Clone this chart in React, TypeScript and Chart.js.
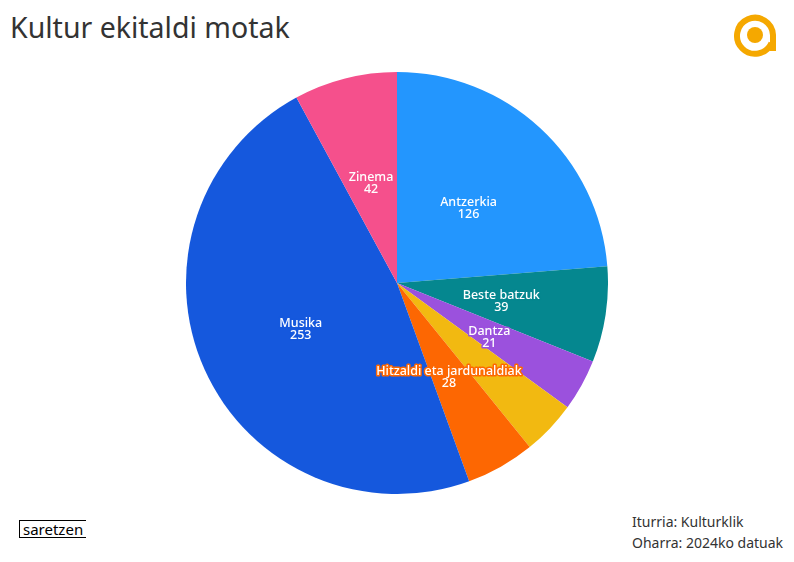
import React, { useEffect, useRef } from "react";
import { Chart, registerables } from "chart.js";

Chart.register(...registerables);

const categories = ["Antzerkia", "Beste batzuk", "Dantza", "Literatura", "Hitzaldi eta jardunaldiak", "Musika", "Zinema"];
const values = [126, 39, 21, 22, 28, 253, 42];
const colors = ["#2396FE", "#05878F", "#9B51DD", "#F2B911", "#FD6702", "#1558DD", "#F5508C"];

const FONT = "'Noto Sans', sans-serif";

const labelPlugin = {
  id: "sliceLabels",
  afterDatasetsDraw(chart: any) {
    const ctx = chart.ctx;
    const meta = chart.getDatasetMeta(0);
    const order = values.map((v, i) => i).sort((a, b) => values[b] - values[a]);
    const boxes: { x1: number; y1: number; x2: number; y2: number }[] = [];
    ctx.save();
    ctx.font = `500 12.5px ${FONT}`;
    ctx.textAlign = "center";
    ctx.textBaseline = "middle";
    ctx.lineJoin = "round";
    for (const i of order) {
      const arc = meta.data[i] as any;
      const { x, y, startAngle, endAngle, outerRadius } = arc.getProps(["x", "y", "startAngle", "endAngle", "outerRadius"], true);
      const mid = (startAngle + endAngle) / 2;
      const r = outerRadius * 0.5;
      const cx = x + Math.cos(mid) * r;
      const cy = y + Math.sin(mid) * r + 3;
      const l1 = categories[i];
      const l2 = String(values[i]);
      const w = Math.max(ctx.measureText(l1).width, ctx.measureText(l2).width);
      const box = { x1: cx - w / 2, y1: cy - 12, x2: cx + w / 2, y2: cy + 12 };
      const hit = boxes.some((b) => !(box.x2 < b.x1 || box.x1 > b.x2 || box.y2 < b.y1 || box.y1 > b.y2));
      if (hit) continue;
      boxes.push(box);
      ctx.strokeStyle = colors[i];
      ctx.lineWidth = 3;
      ctx.fillStyle = "#ffffff";
      ctx.strokeText(l1, cx, cy - 6);
      ctx.strokeText(l2, cx, cy + 6);
      ctx.fillText(l1, cx, cy - 6);
      ctx.fillText(l2, cx, cy + 6);
    }
    ctx.restore();
  },
};

function PieChart() {
  const ref = useRef<HTMLCanvasElement>(null);
  useEffect(() => {
    if (!ref.current) return;
    const chart = new Chart(ref.current, {
      type: "pie",
      data: {
        labels: categories,
        datasets: [{ data: values, backgroundColor: colors, borderWidth: 0 }],
      },
      options: {
        responsive: false,
        animation: false,
        layout: { padding: 0 },
        plugins: { legend: { display: false }, tooltip: { enabled: false } },
      },
      plugins: [labelPlugin],
    });
    return () => chart.destroy();
  }, []);
  return <canvas ref={ref} width={422} height={422} style={{ position: "absolute", left: 186, top: 72, width: 422, height: 422 }} />;
}

export default function App() {
  useEffect(() => {
    document.body.style.margin = "0";
  }, []);
  return (
    <div style={{ position: "relative", width: 794, height: 562, background: "#fff", fontFamily: FONT, color: "#333", overflow: "hidden" }}>
      <div style={{ position: "absolute", left: 10, top: 8, fontSize: 28.5, color: "#333", whiteSpace: "nowrap" }}>Kultur ekitaldi motak</div>
      <svg style={{ position: "absolute", left: 733, top: 13 }} width={44} height={44} viewBox="0 0 44 44">
        <path d="M 38.5 30 A 18 18 0 1 1 40 22 L 40 38" fill="none" stroke="#F5A800" strokeWidth={6} />
        <circle cx={22} cy={22} r={8} fill="#F5A800" />
      </svg>
      <PieChart />
      <div style={{ position: "absolute", left: 19, top: 520, border: "1.5px solid #000", borderRight: "none", padding: "0 3px", fontSize: 15, lineHeight: "16px", color: "#000" }}>saretzen</div>
      <div style={{ position: "absolute", left: 632, top: 511, fontSize: 14, lineHeight: "21px", color: "#333", whiteSpace: "nowrap" }}>
        Iturria: Kulturklik
        <br />
        Oharra: 2024ko datuak
      </div>
    </div>
  );
}
